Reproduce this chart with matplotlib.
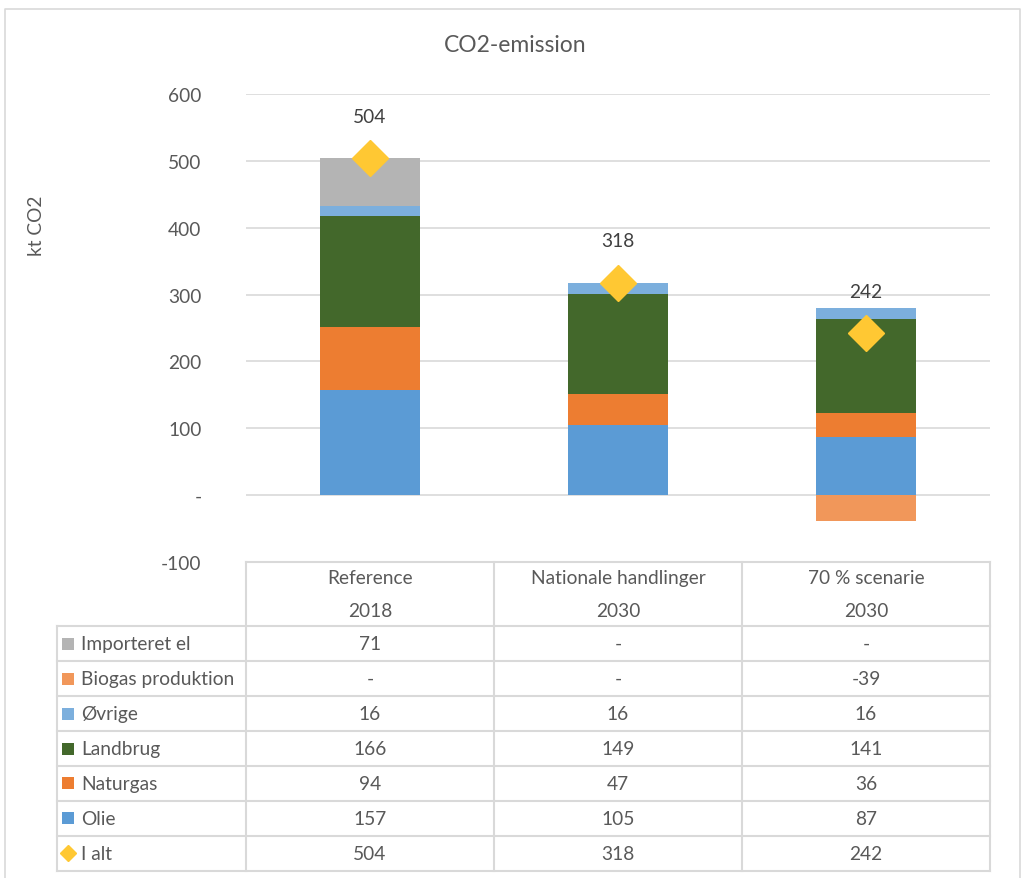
import matplotlib.pyplot as plt
import numpy as np

plt.rcParams['font.family'] = ['Lato', 'DejaVu Sans']

# data
scenarios = ['Reference', 'Nationale handlinger', '70 % scenarie']
years = ['2018', '2030', '2030']
olie = [157, 105, 87]
naturgas = [94, 47, 36]
landbrug = [166, 149, 141]
oevrige = [16, 16, 16]
biogas = [0, 0, -39]
importeret_el = [71, 0, 0]
i_alt = [504, 318, 242]

# stacking order bottom -> top, and the table order top -> bottom
series = [
    ('Olie', olie, '#5B9BD5'),
    ('Naturgas', naturgas, '#ED7D31'),
    ('Landbrug', landbrug, '#43682B'),
    ('Øvrige', oevrige, '#7CAFDD'),
    ('Biogas produktion', biogas, '#F1975A'),
    ('Importeret el', importeret_el, '#B4B4B4'),
]
table_rows = ['Importeret el', 'Biogas produktion', 'Øvrige', 'Landbrug', 'Naturgas', 'Olie']

txt = '#595959'
grid = '#D9D9D9'
fs = 13.8
W, H = 1025, 879

fig = plt.figure(figsize=(W / 100, H / 100), dpi=100)

# overlay axes in pixel units for the frame and data table
ov = fig.add_axes([0, 0, 1, 1])
ov.set_xlim(0, W)
ov.set_ylim(H, 0)
ov.axis('off')

ax = fig.add_axes([246 / W, 1 - 563 / H, (990 - 246) / W, (563 - 95) / H])
x = np.arange(len(scenarios))
pos_base = np.zeros(len(x))
neg_base = np.zeros(len(x))
for name, vals, col in series:
    vals = np.array(vals, dtype=float)
    bottoms = np.where(vals >= 0, pos_base, neg_base)
    ax.bar(x, vals, width=0.4, bottom=bottoms, color=col, zorder=3)
    pos_base = pos_base + np.clip(vals, 0, None)
    neg_base = neg_base + np.clip(vals, None, 0)

ax.plot(x, i_alt, linestyle='none', marker='D', markersize=18,
        color='#FFC833', zorder=4)
for xi, v in zip(x, i_alt):
    ax.annotate(str(v), (xi, v), xytext=(0, 30), textcoords='offset points',
                ha='center', va='center', fontsize=fs, color='#404040')

ax.set_xlim(-0.5, len(x) - 0.5)
ax.set_ylim(-100, 600)
ticks = np.arange(-100, 601, 100)
ax.set_yticks(ticks)
ax.set_yticklabels(['-' if t == 0 else str(t) for t in ticks], fontsize=fs, color=txt)
ax.tick_params(axis='y', length=0, pad=32)
ax.set_xticks([])
for t in ticks[1:]:
    ax.axhline(t, color=grid, linewidth=1.2, zorder=1)
for s in ax.spines.values():
    s.set_visible(False)
ax.set_facecolor('none')
ax.set_ylabel('kt CO2', fontsize=fs, color=txt)
ax.yaxis.set_label_coords(-0.27, 0.72)

fig.text(515 / W, 1 - 46 / H, 'CO2-emission', ha='center', va='center',
         fontsize=16.5, color=txt)

# outer frame
ov.plot([5, 5, 1020, 1020], [H + 5, 10, 10, H + 5], color=grid, lw=1.2)

# data table
col_edges = [246, 494, 742, 990]
row_top = 627
row_h = 35
n_rows = len(table_rows) + 1
tc = '#D9D9D9'
ov.plot([246, 990], [563, 563], color=tc, lw=1.5)
for i in range(n_rows + 1):
    y = row_top + i * row_h
    ov.plot([57, 990], [y, y], color=tc, lw=1.5)
ov.plot([57, 57], [row_top, row_top + n_rows * row_h], color=tc, lw=1.5)
for cx in col_edges:
    ov.plot([cx, cx], [563, row_top + n_rows * row_h], color=tc, lw=1.5)

for j, (sc, yr) in enumerate(zip(scenarios, years)):
    cx = (col_edges[j] + col_edges[j + 1]) / 2
    ov.text(cx, 579, sc, ha='center', va='center', fontsize=fs, color=txt)
    ov.text(cx, 612, yr, ha='center', va='center', fontsize=fs, color=txt)

lookup = {name: (vals, col) for name, vals, col in series}
rows = [(n, lookup[n][0], lookup[n][1], 's') for n in table_rows]
rows.append(('I alt', i_alt, '#FFC833', 'D'))
for i, (name, vals, col, mk) in enumerate(rows):
    cy = row_top + i * row_h + row_h / 2
    if mk == 's':
        ov.add_patch(plt.Rectangle((62, cy - 6), 12, 12, color=col, lw=0))
    else:
        ov.plot(68, cy, marker='D', markersize=8, color=col, linestyle='none')
    ov.text(81, cy, name, ha='left', va='center', fontsize=fs, color=txt)
    for j, v in enumerate(vals):
        cx = (col_edges[j] + col_edges[j + 1]) / 2
        ov.text(cx, cy, '-' if v == 0 else str(v), ha='center', va='center',
                fontsize=fs, color=txt)

fig.savefig('out.png', dpi=100)
